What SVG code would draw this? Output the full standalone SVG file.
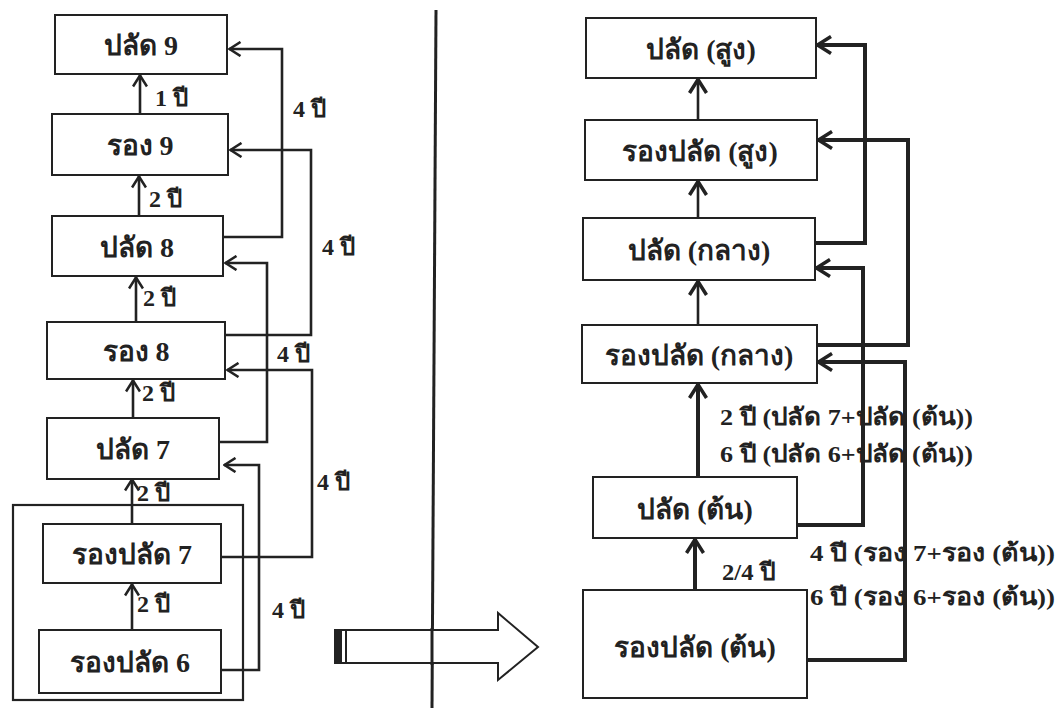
<svg xmlns="http://www.w3.org/2000/svg" width="1061" height="708" viewBox="0 0 1061 708">
<style>
.bx{fill:#fff;stroke:#222;stroke-width:2}
.t{font-family:"Liberation Serif","Noto Sans",serif;font-weight:bold;fill:#222;text-anchor:middle;font-size:28px}
.l{font-family:"Liberation Serif","Noto Sans",serif;font-weight:bold;fill:#222;font-size:24px}
.lr{font-family:"Liberation Serif","Noto Sans",serif;font-weight:bold;fill:#222;font-size:24px}
.c{fill:none;stroke:#222;stroke-width:2.6}
.cr{fill:none;stroke:#222;stroke-width:4}
</style>
<defs>
<marker id="ah" markerUnits="userSpaceOnUse" markerWidth="14" markerHeight="16" viewBox="0 0 14 16" refX="12.5" refY="8" orient="auto"><path d="M1,1 L12,8 L1,15" fill="none" stroke="#222" stroke-width="2.6"/></marker>
<marker id="ahr" markerUnits="userSpaceOnUse" markerWidth="18" markerHeight="20" viewBox="0 0 18 20" refX="16" refY="10" orient="auto"><path d="M2,1.5 L15.5,10 L2,18.5" fill="none" stroke="#222" stroke-width="3.5"/></marker>
</defs>
<rect width="1061" height="708" fill="#fff"/>

<g id="outer"><rect x="13" y="505" width="230" height="195" fill="none" stroke="#222" stroke-width="2.2"/></g>

<g id="connectors">
<path class="c" d="M140,114 V75" marker-end="url(#ah)"/>
<path class="c" d="M139,216 V176" marker-end="url(#ah)"/>
<path class="c" d="M136,322 V277" marker-end="url(#ah)"/>
<path class="c" d="M133,418 V380" marker-end="url(#ah)"/>
<path class="c" d="M132,524 V479" marker-end="url(#ah)"/>
<path class="c" d="M132,630 V584" marker-end="url(#ah)"/>
<path class="c" d="M223,237 H282 V49 H229" marker-end="url(#ah)"/>
<path class="c" d="M225,335 H311 V150 H230" marker-end="url(#ah)"/>
<path class="c" d="M219,442 H267 V263 H225" marker-end="url(#ah)"/>
<path class="c" d="M221,557 H312 V370 H227" marker-end="url(#ah)"/>
<path class="c" d="M221,670 H259 V465 H224" marker-end="url(#ah)"/>

<path class="c" d="M698,120 V79" stroke-width="3" marker-end="url(#ahr)"/>
<path class="c" d="M698,218 V181" stroke-width="3" marker-end="url(#ahr)"/>
<path class="c" d="M698,325 V281" stroke-width="3" marker-end="url(#ahr)"/>
<path class="cr" d="M698,477 V384" stroke-width="5" marker-end="url(#ahr)"/>
<path class="cr" d="M695,590 V539" stroke-width="5" marker-end="url(#ahr)"/>
<path class="cr" d="M815,243 H865 V45 H817" marker-end="url(#ahr)"/>
<path class="cr" d="M817,345 H908 V140 H818" marker-end="url(#ahr)"/>
<path class="cr" d="M797,525 H863 V268 H816" marker-end="url(#ahr)"/>
<path class="cr" d="M807,660 H905 V362 H818" marker-end="url(#ahr)"/>
</g>

<g id="divider"><path d="M436,10 L432,708" stroke="#222" stroke-width="3" fill="none"/></g>

<g id="bigarrow">
<path d="M335,630 H498 V613 L538,647 L498,680 V663 H335 Z" fill="#fff" stroke="#222" stroke-width="2"/>
<rect x="335" y="630" width="7" height="33" fill="#222"/>
<line x1="346" y1="630" x2="346" y2="663" stroke="#222" stroke-width="2"/>
<line x1="432" y1="628" x2="432" y2="665" stroke="#222" stroke-width="3"/>
</g>

<g id="n-p9"><rect class="bx" x="55" y="15" width="172" height="59"/><text class="t" x="141" y="55">ปลัด 9</text></g>
<g id="n-r9"><rect class="bx" x="52" y="114" width="176" height="61"/><text class="t" x="140" y="155">รอง 9</text></g>
<g id="n-p8"><rect class="bx" x="52" y="216" width="171" height="60"/><text class="t" x="137" y="257">ปลัด 8</text></g>
<g id="n-r8"><rect class="bx" x="47" y="322" width="178" height="57"/><text class="t" x="136" y="361">รอง 8</text></g>
<g id="n-p7"><rect class="bx" x="47" y="418" width="172" height="61"/><text class="t" x="133" y="459">ปลัด 7</text></g>
<g id="n-rp7"><rect class="bx" x="43" y="524" width="178" height="59"/><text class="t" x="132" y="564">รองปลัด 7</text></g>
<g id="n-rp6"><rect class="bx" x="39" y="630" width="182" height="63"/><text class="t" x="130" y="672">รองปลัด 6</text></g>

<g id="n-ps"><rect class="bx" x="586" y="18" width="230" height="60"/><text class="t" x="701" y="59">ปลัด (สูง)</text></g>
<g id="n-rps"><rect class="bx" x="585" y="120" width="232" height="60"/><text class="t" x="700" y="161">รองปลัด (สูง)</text></g>
<g id="n-pk"><rect class="bx" x="583" y="218" width="232" height="62"/><text class="t" x="699" y="260">ปลัด (กลาง)</text></g>
<g id="n-rpk"><rect class="bx" x="582" y="325" width="235" height="58"/><text class="t" x="699" y="365">รองปลัด (กลาง)</text></g>
<g id="n-pt"><rect class="bx" x="593" y="477" width="204" height="61"/><text class="t" x="695" y="519">ปลัด (ต้น)</text></g>
<g id="n-rpt"><rect class="bx" x="583" y="590" width="224" height="108"/><text class="t" x="695" y="657">รองปลัด (ต้น)</text></g>

<g id="labels">
<text class="l" x="155" y="106">1 ปี</text>
<text class="l" x="149" y="207">2 ปี</text>
<text class="l" x="143" y="306">2 ปี</text>
<text class="l" x="142" y="401">2 ปี</text>
<text class="l" x="137" y="501">2 ปี</text>
<text class="l" x="137" y="612">2 ปี</text>
<text class="l" x="293" y="117">4 ปี</text>
<text class="l" x="322" y="255">4 ปี</text>
<text class="l" x="277" y="362">4 ปี</text>
<text class="l" x="317" y="490">4 ปี</text>
<text class="l" x="272" y="618">4 ปี</text>
<text class="lr" x="720" y="425" textLength="253" lengthAdjust="spacingAndGlyphs">2 ปี (ปลัด 7+ปลัด (ต้น))</text>
<text class="lr" x="720" y="462" textLength="253" lengthAdjust="spacingAndGlyphs">6 ปี (ปลัด 6+ปลัด (ต้น))</text>
<text class="lr" x="722" y="580" textLength="53" lengthAdjust="spacingAndGlyphs">2/4 ปี</text>
<text class="lr" x="810" y="561" textLength="245" lengthAdjust="spacingAndGlyphs">4 ปี (รอง 7+รอง (ต้น))</text>
<text class="lr" x="810" y="605" textLength="245" lengthAdjust="spacingAndGlyphs">6 ปี (รอง 6+รอง (ต้น))</text>
</g>
</svg>
